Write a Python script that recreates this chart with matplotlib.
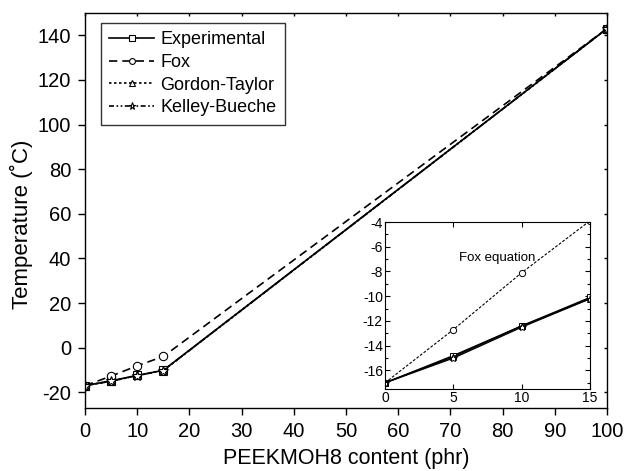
import numpy as np
import matplotlib
matplotlib.use('Agg')
import matplotlib.pyplot as plt
from matplotlib.ticker import MultipleLocator

plt.rcParams['font.family'] = ['Liberation Sans', 'DejaVu Sans']
plt.rcParams['axes.unicode_minus'] = False

phr = [0, 5, 10, 15, 100]
tg_exp = [-17.0, -14.8, -12.4, -10.1, 143.0]
tg_fox = [-17.0, -12.7, -8.1, -3.9, 143.0]
tg_gt = [-17.0, -14.9, -12.4, -10.2, 143.0]
tg_kb = [-17.0, -15.0, -12.5, -10.2, 143.0]

series = [
    ('Experimental', tg_exp, '-', 's'),
    ('Fox', tg_fox, (0, (5, 3)), 'o'),
    ('Gordon-Taylor', tg_gt, (0, (1.5, 1.5)), '^'),
    ('Kelley-Bueche', tg_kb, (0, (3, 1.5, 1, 1.5, 1, 1.5)), '*'),
]

fig = plt.figure(figsize=(6.3, 4.71), dpi=100)
ax = fig.add_axes([85/630, 1 - 408/471, (607 - 85)/630, (408 - 13)/471])

for name, vals, ls, mk in series:
    ax.plot(phr, vals, color='black', linestyle=ls, linewidth=1.2, marker=mk,
            markersize=7.5 if mk == '*' else 6, markerfacecolor='white',
            markeredgecolor='black', markeredgewidth=0.8, label=name)

ax.set_xlim(0, 100)
ax.set_ylim(-27, 150)
ax.set_xticks(np.arange(0, 101, 10))
ax.set_yticks(np.arange(-20, 141, 20))
ax.tick_params(axis='both', which='major', direction='out', length=5, width=1,
               labelsize=14.5, pad=5)
ax.tick_params(top=True, right=True, labeltop=False, labelright=False)
ax.set_xlabel('PEEKMOH8 content (phr)', fontsize=15.5, labelpad=5)
ax.set_ylabel('Temperature (\u02daC)', fontsize=16)
ax.yaxis.set_label_coords(-0.1, 0.465)
for s in ax.spines.values():
    s.set_linewidth(1.0)

# inward, short ticks on top and right
for t in ax.xaxis.get_major_ticks():
    t.tick2line.set_markersize(2.5)
    t.tick2line.set_marker(3)
for t in ax.yaxis.get_major_ticks():
    t.tick2line.set_markersize(2.5)
    t.tick2line.set_marker(0)

leg = ax.legend(loc='upper left', bbox_to_anchor=(101/630, 1 - 23/471),
                bbox_transform=fig.transFigure, fontsize=13, frameon=True,
                fancybox=False, edgecolor='black', handlelength=2.5,
                handletextpad=0.35, borderpad=0.45, labelspacing=0.32,
                borderaxespad=0, markerscale=0.7)
leg.get_frame().set_linewidth(1.0)

# inset
ins = fig.add_axes([385/630, 1 - 389/471, (590 - 385)/630, (389 - 222)/471])
for name, vals, ls, mk in series:
    ins_ls = (0, (2.5, 1.5)) if name == 'Fox' else '-'
    ins.plot(phr[:4], vals[:4], color='black', linestyle=ins_ls,
             linewidth=0.8 if name == 'Fox' else 1.0, marker=mk,
             markersize=6 if mk == '*' else 4.5, markerfacecolor='white',
             markeredgecolor='black', markeredgewidth=0.7)
ins.set_xlim(0, 15)
ins.set_ylim(-17.5, -4)
ins.set_xticks([0, 5, 10, 15])
ins.set_yticks(np.arange(-16, -3, 2))
ins.yaxis.set_minor_locator(MultipleLocator(1))
ins.tick_params(which='both', direction='in', top=True, right=True,
                labelsize=10, width=0.8)
ins.tick_params(which='major', length=3.5, pad=1.5)
ins.tick_params(which='minor', length=2)
for s in ins.spines.values():
    s.set_linewidth(0.8)
ins.text(5.4, -6.9, 'Fox equation', fontsize=9.5, va='center', ha='left')

fig.savefig('out.png', dpi=100)
